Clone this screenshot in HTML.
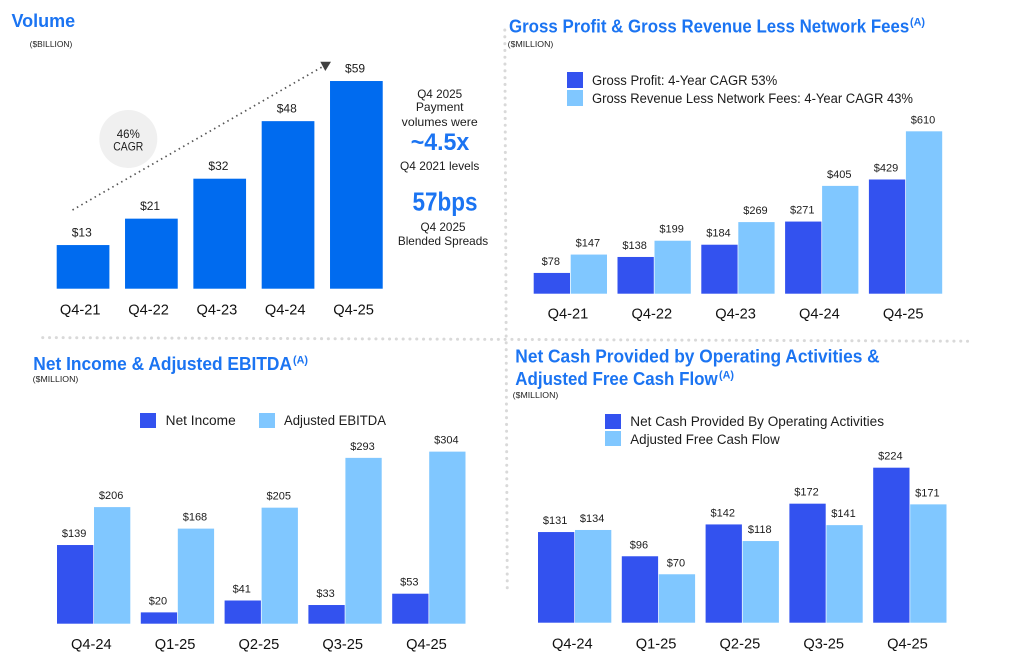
<!DOCTYPE html>
<html lang="en">
<head>
<meta charset="utf-8">
<title>Financial summary charts</title>
<style>
  html, body { margin: 0; padding: 0; background: #fff; }
  body { width: 1010px; height: 661px; overflow: hidden; }
  svg { display: block; font-family: "Liberation Sans", sans-serif; }
  .title { font-weight: 700; font-size: 18px; fill: #1b74f2; }
  .sup { font-weight: 700; font-size: 11px; fill: #1b74f2; }
  .unit { font-size: 8.4px; fill: #222; }
  .legend { font-size: 13.5px; fill: #1c1c1c; }
  .note { font-size: 12px; fill: #1c1c1c; text-anchor: middle; }
  .big { font-weight: 700; fill: #1b74f2; text-anchor: middle; }
  .tick { font-size: 15px; fill: #111; text-anchor: middle; }
  .val { font-size: 11px; fill: #1c1c1c; text-anchor: middle; }
  .val-lg { font-size: 12px; fill: #1c1c1c; text-anchor: middle; }
</style>
</head>
<body>
<svg id="root" width="1010" height="661" viewBox="0 0 1010 661">
  <rect x="0" y="0" width="1010" height="661" fill="#fff"/>

  <line x1="42.7" y1="337.6" x2="968" y2="341.2" stroke="#d9d9d9" stroke-width="3" stroke-linecap="round" stroke-dasharray="0.1 6.7"/>
  <line x1="504.8" y1="30" x2="507.3" y2="593" stroke="#d9d9d9" stroke-width="3" stroke-linecap="round" stroke-dasharray="0.1 6.7"/>

  <!-- Volume panel text -->
  <text class="title" x="11.5" y="27" textLength="63.7" lengthAdjust="spacingAndGlyphs">Volume</text>
  <text class="unit" x="29.7" y="47" textLength="42.6" lengthAdjust="spacingAndGlyphs">($BILLION)</text>

  <circle cx="128.3" cy="139" r="29" fill="#f0f0f0"/>
  <text class="note" x="128.3" y="138" textLength="23" lengthAdjust="spacingAndGlyphs">46%</text>
  <text class="note" x="128.3" y="150.7" textLength="30" lengthAdjust="spacingAndGlyphs">CAGR</text>

  <line x1="72.5" y1="210" x2="322" y2="67" stroke="#555" stroke-width="1.7" stroke-dasharray="1.5 3.6"/>
  <polygon points="320.3,61.7 331,61.7 325.3,71" fill="#404040"/>

  <text class="note" x="439.7" y="98" textLength="45" lengthAdjust="spacingAndGlyphs">Q4 2025</text>
  <text class="note" x="439.7" y="111" textLength="47.7" lengthAdjust="spacingAndGlyphs">Payment</text>
  <text class="note" x="439.7" y="126" textLength="76" lengthAdjust="spacingAndGlyphs">volumes were</text>
  <text class="big" x="440" y="150" font-size="24" textLength="58.6" lengthAdjust="spacingAndGlyphs">~4.5x</text>
  <text class="note" x="439.7" y="170" textLength="79.3" lengthAdjust="spacingAndGlyphs">Q4 2021 levels</text>
  <text class="big" x="445" y="210.7" font-size="26" textLength="65" lengthAdjust="spacingAndGlyphs">57bps</text>
  <text class="note" x="443" y="231" textLength="45" lengthAdjust="spacingAndGlyphs">Q4 2025</text>
  <text class="note" x="443" y="245" textLength="90.3" lengthAdjust="spacingAndGlyphs">Blended Spreads</text>

  <!-- Gross panel text -->
  <text class="title" x="509" y="32.3" textLength="400.3" lengthAdjust="spacingAndGlyphs">Gross Profit &amp; Gross Revenue Less Network Fees</text>
  <text class="sup" x="910" y="25.7" textLength="15" lengthAdjust="spacingAndGlyphs">(A)</text>
  <text class="unit" x="507.7" y="47" textLength="45.6" lengthAdjust="spacingAndGlyphs">($MILLION)</text>
  <rect x="567" y="72" width="16" height="16" fill="#3352ef"/>
  <text class="legend" x="592" y="85" textLength="185.3" lengthAdjust="spacingAndGlyphs">Gross Profit: 4-Year CAGR 53%</text>
  <rect x="567" y="90" width="16" height="16" fill="#80c7ff"/>
  <text class="legend" x="592" y="103" textLength="321" lengthAdjust="spacingAndGlyphs">Gross Revenue Less Network Fees: 4-Year CAGR 43%</text>

  <!-- Net income panel text -->
  <text class="title" x="33.3" y="370" textLength="258.7" lengthAdjust="spacingAndGlyphs">Net Income &amp; Adjusted EBITDA</text>
  <text class="sup" x="293" y="363.3" textLength="15" lengthAdjust="spacingAndGlyphs">(A)</text>
  <text class="unit" x="32.7" y="382" textLength="45.6" lengthAdjust="spacingAndGlyphs">($MILLION)</text>
  <rect x="140" y="413" width="16" height="15" fill="#3352ef"/>
  <text class="legend" x="165.7" y="425" textLength="70" lengthAdjust="spacingAndGlyphs">Net Income</text>
  <rect x="259" y="413" width="16" height="15" fill="#80c7ff"/>
  <text class="legend" x="284" y="425" textLength="102" lengthAdjust="spacingAndGlyphs">Adjusted EBITDA</text>

  <!-- Cash panel text -->
  <text class="title" x="515.3" y="362.3" textLength="364.4" lengthAdjust="spacingAndGlyphs">Net Cash Provided by Operating Activities &amp;</text>
  <text class="title" x="515.3" y="385" textLength="202.4" lengthAdjust="spacingAndGlyphs">Adjusted Free Cash Flow</text>
  <text class="sup" x="719" y="378.3" textLength="15" lengthAdjust="spacingAndGlyphs">(A)</text>
  <text class="unit" x="512.7" y="398" textLength="45.6" lengthAdjust="spacingAndGlyphs">($MILLION)</text>
  <rect x="605" y="414" width="16" height="15" fill="#3352ef"/>
  <text class="legend" x="630.3" y="426" textLength="253.7" lengthAdjust="spacingAndGlyphs">Net Cash Provided By Operating Activities</text>
  <rect x="605" y="431" width="16" height="15" fill="#80c7ff"/>
  <text class="legend" x="630.3" y="444" textLength="149.4" lengthAdjust="spacingAndGlyphs">Adjusted Free Cash Flow</text>
</svg>

<script>
// Volume chart data ($ billion); bars reflect unrounded volumes, labels the printed figures
const volumeCategories = ["Q4-21", "Q4-22", "Q4-23", "Q4-24", "Q4-25"];
const volumeValues = [12.4, 19.9, 31.25, 47.6, 59];
const volumePrinted = ["$13", "$21", "$32", "$48", "$59"];

// Gross profit chart data ($ million)
const grossCategories = ["Q4-21", "Q4-22", "Q4-23", "Q4-24", "Q4-25"];
const grossProfitValues = [78, 138, 184, 271, 429];
const grossRevenueValues = [147, 199, 269, 405, 610];

// Net income chart data ($ million)
const incomeCategories = ["Q4-24", "Q1-25", "Q2-25", "Q3-25", "Q4-25"];
const netIncomeValues = [139, 20, 41, 33, 53];
const ebitdaValues = [206, 168, 205, 293, 304];

// Cash flow chart data ($ million)
const cashCategories = ["Q4-24", "Q1-25", "Q2-25", "Q3-25", "Q4-25"];
const operatingCashValues = [131, 96, 142, 172, 224];
const freeCashValues = [134, 70, 118, 141, 171];

const SVG_NS = "http://www.w3.org/2000/svg";
const root = document.getElementById("root");
const DARK = "#3352ef";
const LIGHT = "#80c7ff";
const VOLUME_BLUE = "#006bef";

function addBar(x, y, w, h, fill, name) {
  const el = document.createElementNS(SVG_NS, "rect");
  el.setAttribute("x", x);
  el.setAttribute("y", y);
  el.setAttribute("width", w);
  el.setAttribute("height", h);
  el.setAttribute("fill", fill);
  
  
  root.appendChild(el);
}

function addLabel(x, y, text, cls, name, length) {
  const el = document.createElementNS(SVG_NS, "text");
  el.setAttribute("x", x);
  el.setAttribute("y", y);
  el.setAttribute("class", cls);
  if (length) {
    el.setAttribute("textLength", length);
    el.setAttribute("lengthAdjust", "spacingAndGlyphs");
  }
  el.textContent = text;
  
  
  root.appendChild(el);
}

// Volume chart: one series
(function drawVolume() {
  const baseline = 288.7;
  const yScale = v => v * 3.52;
  const xScale = i => 56.7 + i * 68.33;
  const barW = 52.7;
  volumeCategories.forEach((cat, i) => {
    const h = yScale(volumeValues[i]);
    addBar(xScale(i), baseline - h, barW, h, VOLUME_BLUE, "volume-bar-" + cat.toLowerCase());
    addLabel(xScale(i) + barW / 2 - 1.3, baseline - h - 8.7, volumePrinted[i], "val-lg", "volume-value-" + cat.toLowerCase());
    addLabel(xScale(i) + barW / 2 - 2.8, 314.3, cat, "tick", "volume-tick-" + cat.toLowerCase(), 40.7);
  });
})();

// Paired bar panels
function drawPaired(cfg) {
  const yScale = v => v * cfg.scale;
  const xScale = i => cfg.x0 + i * 83.8;
  const barW = 36.3;
  const offset = 37;
  const format = v => "$" + v;
  cfg.categories.forEach((cat, i) => {
    const key = cat.toLowerCase();
    const h1 = yScale(cfg.first[i]);
    const h2 = yScale(cfg.second[i]);
    addBar(xScale(i), cfg.baseline - h1, barW, h1, DARK, cfg.name + "-bar-a-" + key);
    addBar(xScale(i) + offset, cfg.baseline - h2, barW, h2, LIGHT, cfg.name + "-bar-b-" + key);
    addLabel(xScale(i) + barW / 2 - 1, cfg.baseline - h1 - 8, format(cfg.first[i]), "val", cfg.name + "-value-a-" + key);
    addLabel(xScale(i) + offset + barW / 2 - 1, cfg.baseline - h2 - 8, format(cfg.second[i]), "val", cfg.name + "-value-b-" + key);
    addLabel(xScale(i) + 34.3, cfg.tickY, cat, "tick", cfg.name + "-tick-" + key, 40.7);
  });
}

drawPaired({ name: "gross", categories: grossCategories, first: grossProfitValues, second: grossRevenueValues, scale: 0.2662, baseline: 293.7, x0: 533.7, tickY: 318.3 });
drawPaired({ name: "income", categories: incomeCategories, first: netIncomeValues, second: ebitdaValues, scale: 0.566, baseline: 623.7, x0: 57, tickY: 649 });
drawPaired({ name: "cash", categories: cashCategories, first: operatingCashValues, second: freeCashValues, scale: 0.692, baseline: 622.7, x0: 538, tickY: 648.3 });
</script>
</body>
</html>
